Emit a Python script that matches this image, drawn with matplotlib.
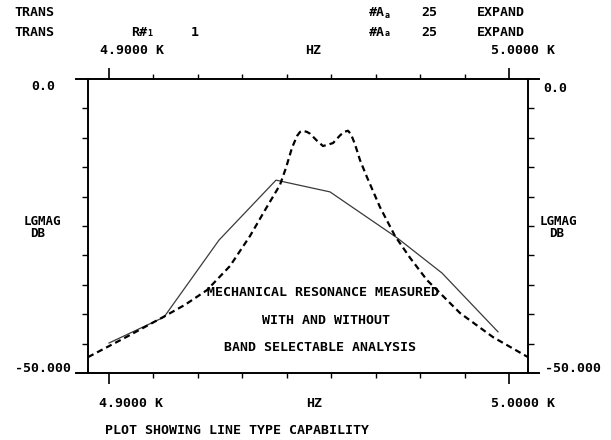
import numpy as np
import matplotlib.pyplot as plt

# frequency axis (Hz) and log magnitude (dB)
freq_dashed = [4894.75, 4904.0, 4913.5, 4919.0, 4924.5, 4930.25, 4935.25, 4939.0,
               4942.75, 4944.25, 4945.75, 4947.0, 4947.75, 4948.5, 4949.5, 4950.25,
               4952.0, 4953.5, 4956.0, 4957.75, 4958.75, 4959.75, 4960.5, 4961.5,
               4962.75, 4964.5, 4967.75, 4971.5, 4975.25, 4979.5, 4987.75, 4996.0,
               5004.75]
mag_dashed = [-47.3, -44.0, -40.5, -38.4, -35.9, -31.8, -26.7, -22.3,
              -18.0, -15.1, -11.7, -9.7, -9.0, -8.8, -9.0, -9.3,
              -10.5, -11.4, -10.9, -9.6, -9.0, -8.8, -9.4, -11.1,
              -13.8, -16.7, -21.8, -26.7, -30.4, -34.2, -39.8, -43.9,
              -47.3]

freq_solid = [4900.0, 4913.75, 4927.5, 4941.75, 4955.25, 4972.0, 4983.25, 4997.25]
mag_solid = [-44.9, -40.5, -27.4, -17.2, -19.2, -27.0, -33.0, -43.0]

x_ticks = np.linspace(4900, 5000, 10)
y_ticks = np.arange(-45, 0, 5)

W, H = 611, 440
fig = plt.figure(figsize=(W / 100, H / 100), dpi=100)
ax = fig.add_axes([88 / W, 1 - 373 / H, 440 / W, 294 / H])

ax.plot(freq_solid, mag_solid, color='#3a3a3a', lw=0.9)
ax.plot(freq_dashed, mag_dashed, color='black', lw=1.6, dashes=(2.8, 1.8),
        solid_joinstyle='round')

ax.set_xlim(4894.75, 5004.75)
ax.set_ylim(-50, 0)

# frame: plotter style, horizontal rules run past the side axes
ax.spines['top'].set_visible(False)
ax.spines['bottom'].set_visible(False)
for s in ['left', 'right']:
    ax.spines[s].set_linewidth(1.4)
for yy in [0, 1]:
    ax.plot([-12 / 440, 451 / 440], [yy, yy], transform=ax.transAxes,
            color='black', lw=1.4, clip_on=False)

ax.set_xticks([4900, 5000])
ax.set_xticks(x_ticks[1:-1], minor=True)
ax.set_yticks(y_ticks)
ax.tick_params(axis='x', which='major', top=True, bottom=True, direction='out',
               length=8, width=1.2, labelbottom=False, labeltop=False)
ax.tick_params(axis='x', which='minor', top=True, bottom=True, direction='out',
               length=3.5, width=1.0)
ax.tick_params(axis='y', left=True, right=True, direction='out', length=4,
               width=1.0, labelleft=False, labelright=False)

font = dict(family='DejaVu Sans Mono', fontsize=9.5, fontweight='bold', color='black')


def txt(x, y, s, **kw):
    opts = dict(font)
    opts.update(kw)
    fig.text(x / W, 1 - y / H, s, ha=opts.pop('ha', 'left'), va='center', **opts)


# header lines
txt(14, 13, 'TRANS')
txt(14, 32, 'TRANS')
txt(131, 32, 'R#')
txt(147, 34, '1', fontsize=6)
txt(191, 32, '1')
for yy in [13, 32]:
    txt(369, yy, '#A')
    txt(385, yy + 2, 'a', fontsize=6)
    txt(421, yy, '25')
    txt(477, yy, 'EXPAND')
txt(100, 50, '4.9000 K')
txt(305, 50, 'HZ')
txt(491, 50, '5.0000 K')

# y labels both sides
txt(31, 87, '0.0')
txt(15, 368, '-50.000')
txt(42, 221, 'LGMAG', ha='center', fontsize=9)
txt(38, 233, 'DB', ha='center', fontsize=9)
txt(543, 88, '0.0')
txt(545, 368, '-50.000')
txt(558, 221, 'LGMAG', ha='center', fontsize=9)
txt(557, 233, 'DB', ha='center', fontsize=9)

# bottom labels
txt(99, 403, '4.9000 K')
txt(306, 403, 'HZ')
txt(491, 403, '5.0000 K')
txt(105, 430, 'PLOT SHOWING LINE TYPE CAPABILITY')

# annotation
txt(207, 292, 'MECHANICAL RESONANCE MEASURED')
txt(262, 320, 'WITH AND WITHOUT')
txt(224, 347, 'BAND SELECTABLE ANALYSIS')

fig.savefig('out.png', dpi=100)
